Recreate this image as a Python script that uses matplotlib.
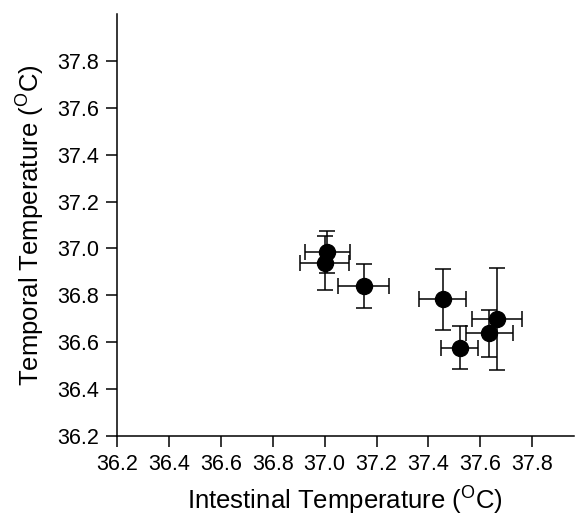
import matplotlib
matplotlib.use("Agg")
import matplotlib.pyplot as plt

plt.rcParams['font.family'] = ['Liberation Sans', 'DejaVu Sans']
plt.rcParams['mathtext.fontset'] = 'custom'
plt.rcParams['mathtext.rm'] = 'Liberation Sans'

# intestinal (x) vs temporal (y) temperature, with errors
x = [37.01, 37.00, 37.15, 37.455, 37.52, 37.665, 37.635]
y = [36.985, 36.937, 36.84, 36.783, 36.577, 36.698, 36.638]
xerr = [0.087, 0.095, 0.097, 0.091, 0.07, 0.097, 0.092]
yerr = [0.09, 0.115, 0.092, 0.13, 0.093, 0.217, 0.10]

ticks = [36.2, 36.4, 36.6, 36.8, 37.0, 37.2, 37.4, 37.6, 37.8]

fig = plt.figure(figsize=(5.75, 5.16), dpi=100)
ax = fig.add_axes([0.2035, 0.155, 0.7945, 0.818])

ax.errorbar(x, y, xerr=xerr, yerr=yerr, fmt='o', color='black',
            markersize=11.5, capsize=6, elinewidth=1.1, capthick=1.1)

ax.set_xlim(36.2, 37.96)
ax.set_ylim(36.2, 38.0)
ax.set_xticks(ticks)
ax.set_yticks(ticks)
ax.set_xticklabels(['%.1f' % t for t in ticks])
ax.set_yticklabels(['%.1f' % t for t in ticks])
ax.spines['top'].set_visible(False)
ax.spines['right'].set_visible(False)
ax.spines['left'].set_linewidth(1.1)
ax.spines['bottom'].set_linewidth(1.1)
ax.tick_params(direction='out', length=8, width=1.1, labelsize=15.5, pad=5)
ax.set_xlabel(r'Intestinal Temperature ($^\mathregular{O}$C)', fontsize=18.5, labelpad=6)
ax.set_ylabel(r'Temporal Temperature ($^\mathregular{O}$C)', fontsize=18.5, labelpad=8)

fig.savefig('out.png', dpi=100)
